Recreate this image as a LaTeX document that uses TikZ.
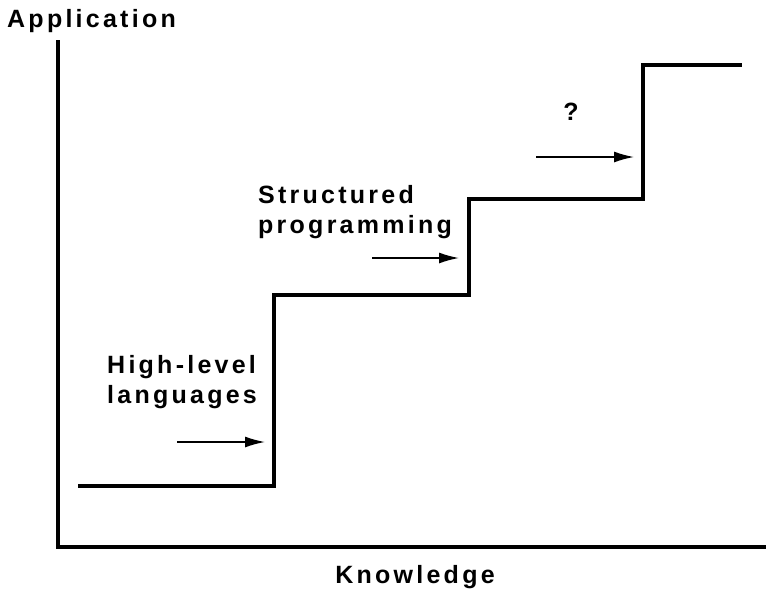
\documentclass[tikz,border=0pt]{standalone}
\usepackage{fontspec}
\setmainfont{Liberation Sans}[LetterSpace=13]
\usetikzlibrary{arrows.meta}
\begin{document}
\begin{tikzpicture}[x=1pt,y=-1pt,font=\fontsize{25}{30.5}\selectfont\bfseries,
    lbl/.style={align=left,inner sep=0pt},
    advance/.style={line width=1.6pt,-{Latex[length=20pt,width=11pt]}}]
    \useasboundingbox (0,0) rectangle (766,590);
    % axes
    \draw[line width=4.5pt] (58,40) -- (58,547) -- (766,547);
    \node[lbl,anchor=base west] (app) at (7,27) {Application};
    \node[lbl,anchor=base] (know) at (415,583) {Knowledge};
    % staircase
    \draw[line width=3.5pt] (78,486) -- (274,486) -- (274,295) -- (469,295) -- (469,199) -- (643,199) -- (643,65) -- (742,65);
    % labels and arrows
    \node[lbl,anchor=north west] (hll) at (107,355) {High-level\\languages};
    \node[lbl,anchor=north west] (sp) at (258,185) {Structured\\programming};
    \node[lbl] (next) at (571,112) {?};
    \coordinate (hll-a) at (177,442);
    \coordinate (hll-b) at (265,442);
    \coordinate (sp-a) at (372,258);
    \coordinate (sp-b) at (459,258);
    \coordinate (next-a) at (536,157);
    \coordinate (next-b) at (634,157);
    \draw[advance] (hll-a) -- (hll-b);
    \draw[advance] (sp-a) -- (sp-b);
    \draw[advance] (next-a) -- (next-b);
\end{tikzpicture}
\end{document}
